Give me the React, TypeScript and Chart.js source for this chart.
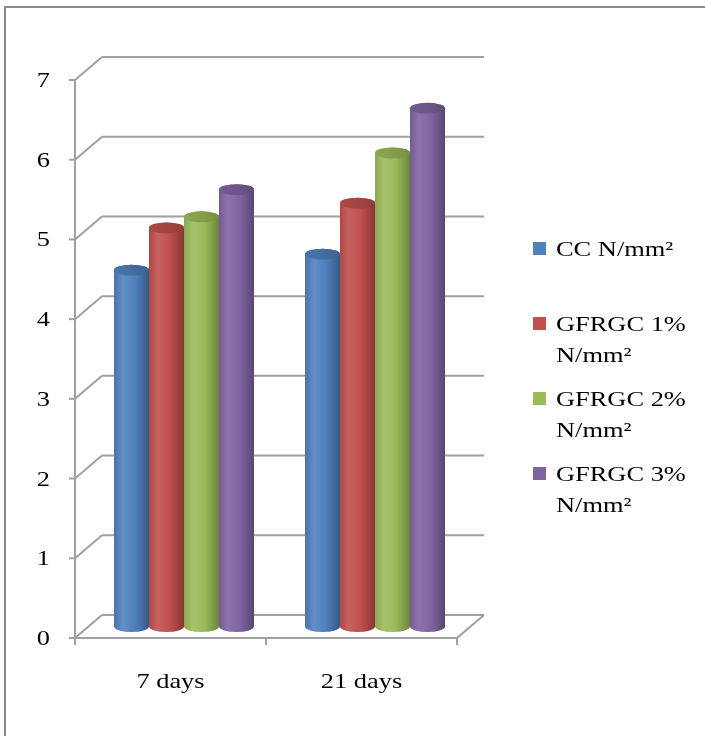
import React, { useEffect, useRef } from 'react';
import { Chart, registerables } from 'chart.js';

Chart.register(...registerables);

// ---- data ----
const categories = ['7 days', '21 days'];
const seriesLabels = ['CC N/mm²', 'GFRGC 1% N/mm²', 'GFRGC 2% N/mm²', 'GFRGC 3% N/mm²'];
const ccValues = [4.47, 4.67];
const gfrgc1Values = [5.0, 5.31];
const gfrgc2Values = [5.14, 5.94];
const gfrgc3Values = [5.48, 6.5];
const yTicks = [0, 1, 2, 3, 4, 5, 6, 7];
const seriesColors = ['#4F81BD', '#C0504D', '#9BBB59', '#8064A2'];

// ---- style constants ----
const DX = 27;
const DY = -23;
const FONT = '22px "Liberation Serif", "Times New Roman", serif';
const SX = 1.2;
const GRID = '#a0a0a0';

function hexToRgb(h: string) {
  const n = parseInt(h.slice(1), 16);
  return [(n >> 16) & 255, (n >> 8) & 255, n & 255];
}
function shade(h: string, f: number) {
  const [r, g, b] = hexToRgb(h);
  return `rgb(${Math.round(r * f)},${Math.round(g * f)},${Math.round(b * f)})`;
}
function lighten(h: string, f: number) {
  const [r, g, b] = hexToRgb(h);
  return `rgb(${Math.round(r + (255 - r) * f)},${Math.round(g + (255 - g) * f)},${Math.round(b + (255 - b) * f)})`;
}

function textWidth(ctx: CanvasRenderingContext2D, text: string) {
  ctx.save();
  ctx.font = FONT;
  const w = ctx.measureText(text).width * SX;
  ctx.restore();
  return w;
}

function stretchedText(ctx: CanvasRenderingContext2D, text: string, x: number, y: number, align: 'left' | 'right' | 'center') {
  ctx.save();
  ctx.font = FONT;
  const w = ctx.measureText(text).width * SX;
  const x0 = align === 'left' ? x : align === 'right' ? x - w : x - w / 2;
  ctx.translate(x0, y);
  ctx.scale(SX, 1);
  ctx.textAlign = 'left';
  ctx.textBaseline = 'alphabetic';
  ctx.fillStyle = '#000';
  ctx.fillText(text, 0, 0);
  ctx.restore();
}

function wrap(ctx: CanvasRenderingContext2D, text: string, maxW: number) {
  const words = text.split(' ');
  const lines: string[] = [];
  let cur = '';
  for (const w of words) {
    const t = cur ? cur + ' ' + w : w;
    if (cur && textWidth(ctx, t) > maxW) {
      lines.push(cur);
      cur = w;
    } else cur = t;
  }
  if (cur) lines.push(cur);
  return lines;
}

const line = (ctx: CanvasRenderingContext2D, x1: number, y1: number, x2: number, y2: number) => {
  ctx.beginPath();
  ctx.moveTo(x1, y1);
  ctx.lineTo(x2, y2);
  ctx.stroke();
};

const decorPlugin = {
  id: 'decor3d',
  beforeDraw(chart: any) {
    const ctx: CanvasRenderingContext2D = chart.ctx;
    ctx.save();
    ctx.fillStyle = '#fff';
    ctx.fillRect(0, 0, chart.width, chart.height);
    ctx.strokeStyle = '#8a8a8a';
    ctx.lineWidth = 2;
    line(ctx, 4, 7, chart.width, 7);
    line(ctx, 5, 6, 5, chart.height);
    ctx.restore();
  },
  beforeDatasetsDraw(chart: any) {
    const ctx: CanvasRenderingContext2D = chart.ctx;
    const ys = chart.scales.y;
    const xs = chart.scales.x;
    const { left, right, top, bottom } = chart.chartArea;
    ctx.save();
    ctx.strokeStyle = GRID;
    ctx.lineWidth = 2;
    ctx.lineCap = 'butt';
    for (const v of yTicks) {
      const y = ys.getPixelForValue(v);
      line(ctx, left + DX, y + DY, right + DX, y + DY);
      line(ctx, left, y, left + DX, y + DY);
      line(ctx, left - 6, y, left, y);
    }
    line(ctx, left, top, left, bottom);
    line(ctx, left, bottom, right, bottom);
    line(ctx, right, bottom, right + DX, bottom + DY);
    const n = categories.length;
    for (let i = 0; i <= n; i++) {
      const x = left + (i * (right - left)) / n;
      line(ctx, x, bottom, x, bottom + 7);
    }
    ctx.restore();

    // tick labels
    for (const v of yTicks) {
      const y = ys.getPixelForValue(v);
      stretchedText(ctx, String(v), left - 25, y + 7, 'right');
    }
    categories.forEach((c, i) => {
      stretchedText(ctx, c, xs.getPixelForValue(i), 688, 'center');
    });

    // legend
    let by = 256;
    seriesLabels.forEach((lab, i) => {
      ctx.save();
      ctx.fillStyle = seriesColors[i];
      ctx.fillRect(533, by - 14, 13, 13);
      ctx.restore();
      const lines = wrap(ctx, lab, 140);
      lines.forEach((l, k) => stretchedText(ctx, l, 556, by + k * 31, 'left'));
      by += 75;
    });
  },
  afterDatasetsDraw(chart: any) {
    const ctx: CanvasRenderingContext2D = chart.ctx;
    chart.data.datasets.forEach((ds: any, di: number) => {
      const meta = chart.getDatasetMeta(di);
      const col = seriesColors[di];
      meta.data.forEach((el: any) => {
        const cx = el.x + DX / 2;
        const w = el.width;
        const topY = el.y + DY / 2;
        const baseY = el.base + DY / 2;
        const l = cx - w / 2;
        const r = cx + w / 2;
        const rx = w / 2;
        const ry = 5.5;
        ctx.save();
        const g = ctx.createLinearGradient(l, 0, r, 0);
        g.addColorStop(0, shade(col, 0.9));
        g.addColorStop(0.25, lighten(col, 0.1));
        g.addColorStop(0.6, col);
        g.addColorStop(1, shade(col, 0.7));
        ctx.beginPath();
        ctx.moveTo(l, topY);
        ctx.lineTo(l, baseY);
        ctx.ellipse(cx, baseY, rx, ry, 0, Math.PI, 0, true);
        ctx.lineTo(r, topY);
        ctx.ellipse(cx, topY, rx, ry, 0, 0, Math.PI, true);
        ctx.closePath();
        ctx.fillStyle = g;
        ctx.fill();
        const g2 = ctx.createLinearGradient(l, 0, r, 0);
        g2.addColorStop(0, shade(col, 0.9));
        g2.addColorStop(0.5, shade(col, 0.85));
        g2.addColorStop(1, shade(col, 0.76));
        ctx.beginPath();
        ctx.ellipse(cx, topY, rx, ry, 0, 0, Math.PI * 2);
        ctx.fillStyle = g2;
        ctx.fill();
        ctx.restore();
      });
    });
  },
};

const seriesValues = [ccValues, gfrgc1Values, gfrgc2Values, gfrgc3Values];

export default function App() {
  const ref = useRef<HTMLCanvasElement>(null);
  useEffect(() => {
    const chart = new Chart(ref.current as HTMLCanvasElement, {
      type: 'bar',
      data: {
        labels: categories,
        datasets: seriesLabels.map((lab, i) => ({
          label: lab,
          data: seriesValues[i],
          backgroundColor: 'rgba(0,0,0,0)',
          borderWidth: 0,
          categoryPercentage: 0.733,
          barPercentage: 1.0,
        })),
      },
      options: {
        animation: false,
        responsive: false,
        devicePixelRatio: 1,
        layout: { padding: { left: 0, top: 80, right: 248, bottom: 0 } },
        plugins: { legend: { display: false }, tooltip: { enabled: false } },
        scales: {
          x: {
            grid: { display: false },
            border: { display: false },
            ticks: { display: false },
            afterFit: (s: any) => { s.height = 98; },
          },
          y: {
            min: 0,
            max: 7,
            ticks: { display: false, stepSize: 1 },
            grid: { display: false },
            border: { display: false },
            afterFit: (s: any) => { s.width = 75; },
          },
        },
      },
      plugins: [decorPlugin],
    } as any);
    return () => chart.destroy();
  }, []);
  return (
    <div style={{ position: 'absolute', left: 0, top: 0, width: 705, height: 736 }}>
      <canvas ref={ref} width={705} height={736} style={{ display: 'block', width: 705, height: 736 }} />
    </div>
  );
}
